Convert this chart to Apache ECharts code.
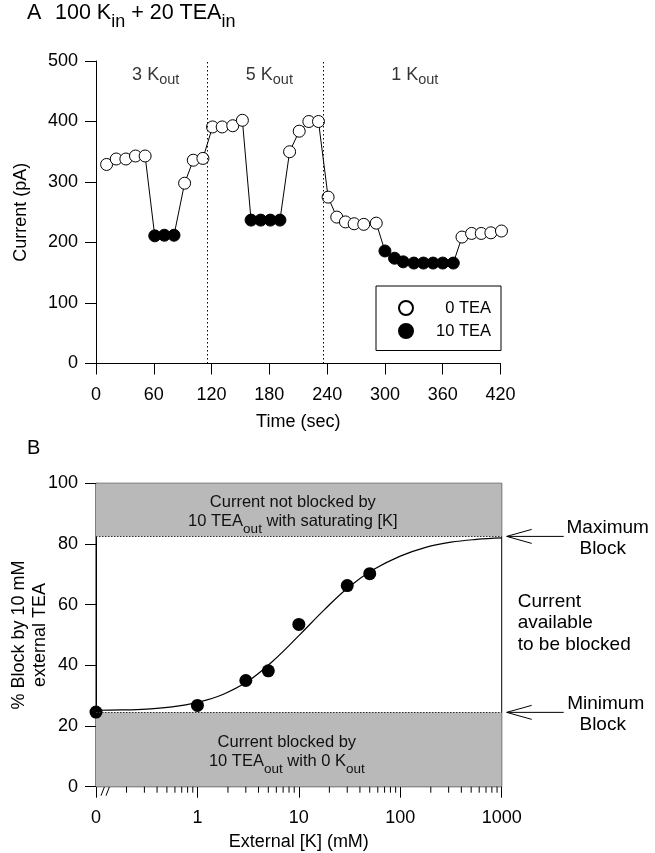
<!DOCTYPE html>
<html><head><meta charset="utf-8">
<script src="https://cdn.jsdelivr.net/npm/echarts@6/dist/echarts.min.js"></script>
<style>html,body{margin:0;padding:0;background:#fff}#c{width:655px;height:853px}</style>
</head><body><div id="c"></div>
<script>
// ---------- Panel A data ----------
const timeSec   = [11,21,31,41,51,61,71,81,92,101,111,121,131,142,152,161,171,181,191,201,211,221,231,241,250,259,268,278,291,300,310,319,330,340,350,360,371,380,390,400,410,421];
const currentPA = [329,338,338,343,343,211,212,212,298,336,339,391,391,393,402,237,237,237,237,350,384,400,400,275,242,234,231,230,232,186,174,168,166,166,166,166,166,209,215,215,216,219];
const teaOut    = [0,0,0,0,0,10,10,10,0,0,0,0,0,0,0,10,10,10,10,0,0,0,0,0,0,0,0,0,0,10,10,10,10,10,10,10,10,0,0,0,0,0];
const regionBounds = [116, 236];
const regionKout   = ['3', '5', '1'];
const regionMid    = [62, 180, 331];
const regionLabelY = 475;
// ---------- Panel B data ----------
const kExternal = [0, 1, 3, 5, 10, 30, 50];
const pctBlock  = [24.6, 26.8, 35.0, 38.2, 53.5, 66.3, 70.2];
const fitK      = [0.1, 0.178, 0.316, 0.562, 1, 1.78, 3.16, 5.62, 10, 17.8, 31.6, 56.2, 100, 178, 316, 562, 1000];
const fitBlock  = [25.2, 25.3, 25.6, 26.3, 27.8, 30.4, 34.8, 41.6, 49.8, 58.3, 66.0, 71.8, 76.0, 78.9, 80.6, 81.5, 82.0];
const maxBlock = 82.5, minBlock = 24.5;
const zeroAt = 0.1; // position of "0" on the log axis
const minorTicks = [0.2,0.3,0.4,0.5,0.6,0.7,0.8,0.9,2,3,4,5,6,7,8,9,20,30,40,50,60,70,80,90,200,300,400,500,600,700,800,900];

const FONT = "'Liberation Sans', Arial, Helvetica, sans-serif";
const chart = echarts.init(document.getElementById('c'));

const axisCommon = {
  axisLine: {lineStyle: {color: '#000', width: 1}},
  axisTick: {length: 11, lineStyle: {color: '#000'}},
  axisLabel: {color: '#000', fontSize: 18, fontFamily: FONT},
  splitLine: {show: false},
  nameMoveOverlap: false,
  nameTextStyle: {color: '#000', fontSize: 18, fontFamily: FONT}
};

const pairsA = timeSec.map((t, i) => [t, currentPA[i]]);
const openA = pairsA.filter((p, i) => teaOut[i] === 0);
const fillA = pairsA.filter((p, i) => teaOut[i] === 10);

const subRich = {
  m: {fontSize: 18, lineHeight: 20, verticalAlign: 'top', color: '#000', fontFamily: FONT},
  s: {fontSize: 14.5, lineHeight: 14.5, verticalAlign: 'top', padding: [6, 0, 0, 0], color: '#000', fontFamily: FONT}
};
const bandRich = {
  m: {fontSize: 16.5, lineHeight: 19, verticalAlign: 'top', color: '#111', fontFamily: FONT},
  s: {fontSize: 13.5, lineHeight: 12, verticalAlign: 'top', padding: [9.5, 0, 0, 0], color: '#111', fontFamily: FONT}
};

const option = {
  animation: false,
  textStyle: {fontFamily: FONT, color: '#000'},
  title: [
    {left: 27, top: 2, padding: 0,
     text: '{a|A}{m|100 K}{s|in}{m| + 20 TEA}{s|in}',
     textStyle: {fontWeight: 'normal', rich: {
       a: {fontSize: 21.5, lineHeight: 25, verticalAlign: 'top', width: 28, fontWeight: 'normal', fontFamily: FONT, color: '#000'},
       m: {fontSize: 21.5, lineHeight: 25, verticalAlign: 'top', fontWeight: 'normal', fontFamily: FONT, color: '#000'},
       s: {fontSize: 18, lineHeight: 18, verticalAlign: 'top', padding: [11, 0, 0, 0], fontWeight: 'normal', fontFamily: FONT, color: '#000'}
     }}},
    {left: 27, top: 438, padding: 0, text: 'B',
     textStyle: {fontSize: 20, fontWeight: 'normal', fontFamily: FONT, color: '#000'}}
  ],
  legend: {
    data: ['0 TEA', '10 TEA'],
    orient: 'vertical', left: 376, top: 286,
    padding: [13.5, 10, 11, 22],
    itemWidth: 14, itemHeight: 14, itemGap: 6,
    borderColor: '#000', borderWidth: 1,
    selectedMode: false,
    formatter: n => '{t|' + n + '}',
    textStyle: {fontSize: 16.5, color: '#000', fontFamily: FONT,
      rich: {t: {width: 73, align: 'right', fontSize: 16.5, fontFamily: FONT, color: '#000'}}}
  },
  grid: [
    {left: 96, top: 61, width: 404.5, height: 302.5, outerBoundsMode: 'none', containLabel: false},
    {left: 96, top: 483.3, width: 405.7, height: 303.4, outerBoundsMode: 'none', containLabel: false,
     show: true, borderColor: '#000', borderWidth: 1, backgroundColor: 'transparent'}
  ],
  xAxis: [
    Object.assign({}, axisCommon, {gridIndex: 0, type: 'value', min: 0, max: 420, interval: 60,
      name: 'Time (sec)', nameLocation: 'middle', nameGap: 50,
      axisLabel: Object.assign({}, axisCommon.axisLabel, {margin: 23})}),
    Object.assign({}, axisCommon, {gridIndex: 1, type: 'log', logBase: 10, min: 0.1, max: 1000,
      name: 'External [K] (mM)', nameLocation: 'middle', nameGap: 46,
      axisLabel: Object.assign({}, axisCommon.axisLabel, {margin: 22,
        formatter: v => (v < 0.5 ? '0' : String(Math.round(v)))})})
  ],
  yAxis: [
    Object.assign({}, axisCommon, {gridIndex: 0, type: 'value', min: 0, max: 500, interval: 100,
      name: 'Current (pA)', nameLocation: 'middle', nameGap: 66,
      axisLabel: Object.assign({}, axisCommon.axisLabel, {margin: 18})}),
    Object.assign({}, axisCommon, {gridIndex: 1, type: 'value', min: 0, max: 100, interval: 20,
      name: '% Block by 10 mM\nexternal TEA', nameLocation: 'middle', nameGap: 45,
      nameTextStyle: {color: '#000', fontSize: 18, lineHeight: 21, fontFamily: FONT},
      axisLabel: Object.assign({}, axisCommon.axisLabel, {margin: 18})})
  ],
  series: [
    {type: 'line', xAxisIndex: 0, yAxisIndex: 0, data: pairsA, showSymbol: false, silent: true,
     lineStyle: {color: '#000', width: 1}, z: 2,
     markLine: {silent: true, symbol: ['none', 'none'], label: {show: false},
       lineStyle: {type: [1.5, 2.5], color: '#000', width: 1, opacity: 1},
       data: regionBounds.map(x => ({xAxis: x}))}},
    {name: '0 TEA', type: 'scatter', xAxisIndex: 0, yAxisIndex: 0, data: openA, symbol: 'circle', symbolSize: 12,
     itemStyle: {color: '#fff', borderColor: '#000', borderWidth: 1, opacity: 1}, z: 3, clip: false},
    {name: '10 TEA', type: 'scatter', xAxisIndex: 0, yAxisIndex: 0, data: fillA, symbol: 'circle', symbolSize: 12,
     itemStyle: {color: '#000', borderColor: '#000', borderWidth: 1, opacity: 1}, z: 3, clip: false},
    {type: 'scatter', xAxisIndex: 0, yAxisIndex: 0, symbolSize: 0, silent: true,
     data: regionMid.map((t, i) => ({value: [t, regionLabelY], name: regionKout[i]})),
     label: {show: true, position: 'inside', color: '#000', textBorderWidth: 0,
       formatter: p => '{m|' + p.name + ' K}{s|out}', rich: subRich}},
    // Panel B
    {type: 'line', xAxisIndex: 1, yAxisIndex: 1, data: fitK.map((k, i) => [k, fitBlock[i]]),
     showSymbol: false, smooth: 0.4, silent: true,
     lineStyle: {color: '#000', width: 1.2}, z: 2,
     markArea: {silent: true, itemStyle: {color: '#b9b9b9'},
       label: {show: true, position: 'inside', color: '#111', textBorderWidth: 0, rich: bandRich},
       data: [
         [{yAxis: maxBlock, label: {offset: [-6, 3], formatter: '{m|Current not blocked by}\n{m|10 TEA}{s|out}{m| with saturating [K]}'}}, {yAxis: 100}],
         [{yAxis: 0, label: {offset: [-12, 3], formatter: '{m|Current blocked by}\n{m|10 TEA}{s|out}{m| with 0 K}{s|out}'}}, {yAxis: minBlock}]
       ]},
     markLine: {silent: true, symbol: ['none', 'none'], label: {show: false},
       lineStyle: {type: [1.5, 1.5], color: '#333', width: 1, opacity: 1},
       data: [{yAxis: maxBlock}, {yAxis: minBlock}]}},
    {type: 'scatter', xAxisIndex: 1, yAxisIndex: 1, symbol: 'circle', symbolSize: 13, clip: false,
     data: kExternal.map((k, i) => [k === 0 ? zeroAt : k, pctBlock[i]]),
     itemStyle: {color: '#000', opacity: 1}, z: 4},
    {type: 'custom', xAxisIndex: 1, yAxisIndex: 1, silent: true, clip: false,
     data: minorTicks.map(v => [v, 0]),
     renderItem: (params, api) => {
       const p = api.coord([api.value(0), 0]);
       return {type: 'line', shape: {x1: p[0], y1: p[1], x2: p[0], y2: p[1] + 6},
         style: {stroke: '#000', lineWidth: 1}};
     }}
  ]
};
chart.setOption(option);

// annotations to the right of panel B and axis break
const pB = (x, y) => chart.convertToPixel({gridIndex: 1}, [x, y]);
const right = pB(1000, 0)[0];
const yMax = pB(1000, maxBlock)[1];
const yMin = pB(1000, minBlock)[1];
const org = pB(zeroAt, 0);
const els = [];
const txt = (x, y, s, align) => ({type: 'text', x: x, y: y,
  style: {text: s, fill: '#000', font: '19px ' + FONT, textAlign: align || 'center', textVerticalAlign: 'middle'}});
[yMax, yMin].forEach(y => {
  els.push({type: 'line', shape: {x1: right + 5, y1: y, x2: right + 62, y2: y}, style: {stroke: '#000', lineWidth: 1}});
  els.push({type: 'polyline', shape: {points: [[right + 30, y - 7], [right + 5, y], [right + 30, y + 7]]}, style: {stroke: '#000', fill: null, lineWidth: 1}});
});
els.push(txt(right + 106, yMax - 9, 'Maximum'));
els.push(txt(right + 101, yMax + 12.5, 'Block'));
const mid = (yMax + yMin) / 2 - 1.5;
els.push(txt(right + 16, mid - 21.5, 'Current', 'left'));
els.push(txt(right + 16, mid, 'available', 'left'));
els.push(txt(right + 16, mid + 21.5, 'to be blocked', 'left'));
els.push(txt(right + 104, yMin - 9, 'Minimum'));
els.push(txt(right + 101, yMin + 12.5, 'Block'));
els.push({type: 'line', shape: {x1: org[0] + 5, y1: org[1] + 9, x2: org[0] + 10, y2: org[1] - 4}, style: {stroke: '#000', lineWidth: 1}});
els.push({type: 'line', shape: {x1: org[0] + 10, y1: org[1] + 9, x2: org[0] + 15, y2: org[1] - 4}, style: {stroke: '#000', lineWidth: 1}});
chart.setOption({graphic: {elements: els}});
</script>
</body></html>
